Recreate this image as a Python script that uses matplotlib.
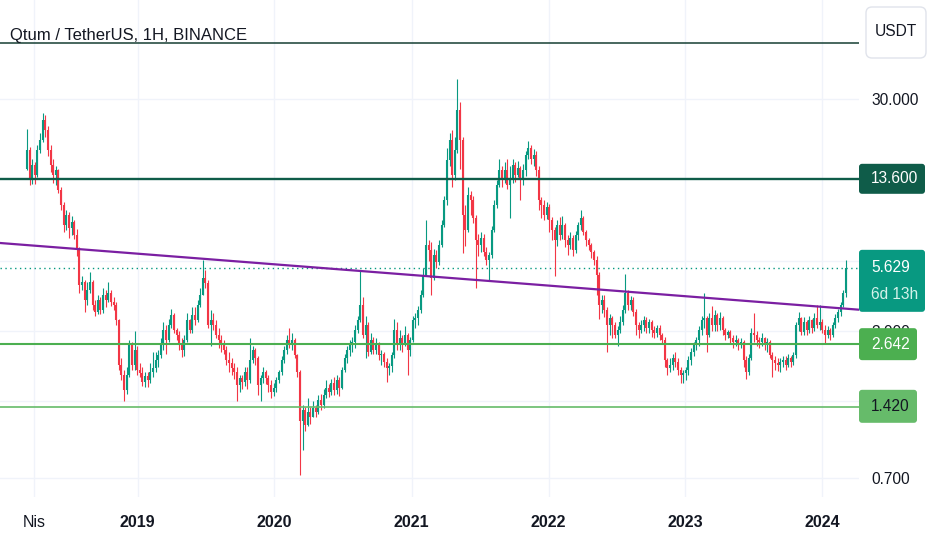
import numpy as np
import pandas as pd
import matplotlib
matplotlib.use("Agg")
import matplotlib.pyplot as plt
import matplotlib.dates as mdates
from matplotlib.patches import FancyBboxPatch
from matplotlib.transforms import IdentityTransform
from matplotlib.ticker import FixedLocator, NullLocator, FuncFormatter

# === weekly QTUM/USDT candles ===
start_week = "2018-03-12"
first_open = 15.0
closes = [
    18.1, 13.4, 15.6, 14.1, 18.1, 20.0, 24.4, 22.1, 18.1, 15.6,
    14.1, 14.8, 12.2, 10.5, 8.6, 9.5, 8.35, 8.85, 7.79, 6.72,
    4.75, 4.89, 4.09, 4.52, 4.89, 3.89, 3.64, 4.09, 3.71, 4.30,
    4.09, 4.38, 4.00, 3.89, 3.36, 2.15, 1.95, 1.68, 1.95, 2.62,
    2.15, 2.49, 2.04, 1.99, 1.81, 1.93, 1.85, 2.00, 2.08, 2.26,
    2.37, 2.62, 3.04, 2.75, 3.19, 3.53, 3.04, 2.89, 2.62, 2.49,
    2.75, 3.36, 3.04, 3.53, 3.36, 3.89, 4.30, 5.10, 4.85, 3.19,
    3.36, 3.19, 2.89, 2.75, 2.62, 2.49, 2.26, 2.19, 2.08, 2.00,
    1.76, 1.89, 1.81, 2.00, 1.85, 2.26, 2.49, 2.30, 1.76, 1.89,
    2.00, 1.89, 1.76, 1.64, 1.71, 1.85, 2.00, 2.26, 2.49, 2.75,
    2.62, 2.75, 2.37, 2.00, 1.23, 1.37, 1.19, 1.35, 1.28, 1.40,
    1.35, 1.52, 1.45, 1.60, 1.71, 1.64, 1.80, 1.68, 1.85, 1.71,
    2.04, 2.30, 2.49, 2.62, 2.70, 3.04, 3.36, 3.89, 2.89, 3.19,
    2.45, 2.75, 2.49, 2.62, 2.37, 2.40, 2.22, 2.08, 2.12, 2.37,
    3.04, 2.62, 2.80, 2.62, 2.89, 2.49, 2.75, 3.36, 3.43, 3.71,
    4.30, 5.24, 7.06, 6.72, 5.10, 6.39, 5.96, 7.06, 8.60, 11.0,
    16.4, 20.0, 14.1, 18.1, 26.9, 20.0, 9.5, 8.19, 11.6, 11.0,
    9.2, 7.42, 7.06, 7.57, 6.58, 6.08, 6.39, 8.19, 10.5, 12.8,
    14.8, 13.4, 14.8, 12.8, 13.7, 15.6, 14.1, 15.1, 13.4, 14.8,
    17.2, 18.4, 16.6, 17.2, 14.8, 11.0, 10.5, 9.5, 10.3, 9.04,
    8.19, 7.42, 8.6, 7.79, 8.6, 7.42, 7.06, 7.57, 6.72, 7.79,
    8.6, 9.2, 8.0, 7.42, 7.06, 6.58, 6.08, 5.24, 3.89, 4.09,
    3.71, 3.19, 3.43, 3.19, 2.89, 3.04, 3.29, 3.71, 4.38, 3.89,
    4.09, 3.64, 3.19, 3.04, 3.19, 3.36, 3.10, 3.29, 3.04, 2.95,
    3.10, 2.89, 2.75, 2.26, 2.08, 2.15, 2.30, 2.22, 2.04, 1.95,
    1.99, 2.04, 2.26, 2.45, 2.62, 2.75, 3.04, 3.36, 3.43, 2.89,
    3.43, 3.19, 3.53, 3.19, 3.43, 3.04, 2.89, 2.98, 2.80, 2.69,
    2.75, 2.62, 2.69, 2.26, 2.00, 2.30, 2.95, 2.89, 2.75, 2.69,
    2.80, 2.62, 2.69, 2.37, 2.26, 2.19, 2.15, 2.22, 2.26, 2.15,
    2.30, 2.22, 2.37, 3.19, 3.43, 2.98, 3.29, 3.04, 3.36, 3.10,
    3.43, 3.19, 3.29, 3.04, 2.89, 3.04, 2.89, 3.19, 3.43, 3.64,
    3.89, 4.38, 5.629,
]
highs = [
    22.3, 18.6, 16.5, 16.0, 19.0, 21.5, 26.0, 25.5, 23.0, 19.0,
    16.5, 15.5, 15.0, 12.5, 10.8, 10.0, 9.8, 9.4, 9.0, 8.3,
    6.9, 5.2, 5.0, 4.9, 5.4, 5.0, 4.1, 4.3, 4.2, 4.6,
    4.5, 4.9, 4.5, 4.2, 4.0, 3.4, 2.3, 2.05, 2.1, 2.75,
    2.7, 3.0, 2.6, 2.2, 2.1, 2.0, 2.0, 2.2, 2.45, 2.45,
    2.5, 2.8, 3.3, 3.2, 3.4, 3.75, 3.6, 3.1, 3.0, 2.8,
    2.9, 3.6, 3.4, 3.8, 3.8, 4.1, 4.6, 6.1, 5.5, 5.0,
    3.7, 3.6, 3.35, 3.1, 2.9, 2.75, 2.6, 2.45, 2.3, 2.2,
    2.1, 1.95, 1.95, 2.1, 2.1, 2.8, 2.6, 2.55, 2.35, 1.95,
    2.1, 2.05, 1.95, 1.85, 1.8, 1.9, 2.05, 2.35, 2.6, 2.9,
    3.1, 2.95, 2.8, 2.4, 2.05, 1.45, 1.42, 1.55, 1.42, 1.5,
    1.45, 1.6, 1.62, 1.7, 1.85, 1.78, 1.88, 1.9, 1.95, 1.9,
    2.1, 2.4, 2.6, 2.75, 2.85, 3.2, 3.5, 5.5, 4.2, 3.5,
    3.3, 2.95, 2.85, 2.8, 2.7, 2.5, 2.45, 2.3, 2.2, 2.45,
    3.4, 3.3, 3.05, 2.9, 3.15, 2.95, 2.85, 3.5, 3.6, 3.85,
    4.5, 5.6, 9.0, 7.4, 7.3, 6.8, 6.7, 7.4, 9.0, 11.5,
    18.5, 21.5, 22.0, 20.5, 36.5, 29.0, 20.5, 10.5, 12.5, 12.0,
    11.5, 9.5, 7.9, 8.0, 7.9, 6.9, 6.6, 8.5, 11.0, 13.5,
    16.5, 15.5, 16.0, 16.6, 15.5, 16.5, 16.0, 16.3, 15.5, 15.8,
    18.0, 19.8, 19.0, 18.3, 18.0, 15.5, 11.4, 11.0, 10.8, 10.6,
    9.3, 8.4, 9.0, 9.3, 9.4, 8.8, 7.8, 8.0, 7.8, 8.1,
    8.9, 10.0, 9.4, 8.2, 7.6, 7.2, 6.7, 6.3, 5.4, 4.3,
    4.3, 3.8, 3.55, 3.5, 3.3, 3.15, 3.5, 3.9, 5.3, 4.5,
    4.25, 4.2, 3.75, 3.3, 3.35, 3.5, 3.45, 3.4, 3.35, 3.15,
    3.2, 3.2, 2.95, 2.85, 2.3, 2.3, 2.4, 2.45, 2.3, 2.1,
    2.05, 2.1, 2.35, 2.55, 2.7, 2.85, 3.15, 3.5, 4.4, 3.5,
    3.6, 3.85, 3.7, 3.6, 3.65, 3.5, 3.1, 3.05, 3.05, 2.9,
    2.9, 2.8, 2.8, 2.75, 2.35, 2.4, 3.1, 3.6, 3.0, 2.85,
    2.95, 2.85, 2.8, 2.75, 2.45, 2.35, 2.3, 2.3, 2.35, 2.35,
    2.4, 2.35, 2.45, 3.3, 3.65, 3.45, 3.45, 3.35, 3.5, 3.4,
    3.6, 3.9, 3.9, 3.4, 3.2, 3.15, 3.1, 3.3, 3.55, 3.75,
    4.0, 4.5, 6.1,
]
lows = [
    14.8, 12.8, 12.9, 12.9, 13.8, 17.5, 19.5, 20.5, 17.0, 14.5,
    13.0, 12.8, 11.8, 10.0, 8.0, 8.2, 7.6, 7.8, 7.5, 6.3,
    4.4, 4.5, 3.65, 3.9, 4.4, 3.7, 3.5, 3.55, 3.55, 3.6,
    3.8, 4.0, 3.85, 3.7, 3.2, 2.05, 1.85, 1.50, 1.62, 1.9,
    2.05, 2.05, 1.95, 1.9, 1.75, 1.72, 1.73, 1.8, 1.9, 2.0,
    2.1, 2.3, 2.5, 2.4, 2.7, 3.1, 2.95, 2.75, 2.5, 2.33,
    2.35, 2.7, 2.95, 2.95, 3.2, 3.3, 3.8, 4.3, 4.6, 3.1,
    2.6, 3.05, 2.8, 2.55, 2.45, 2.4, 2.15, 2.0, 1.95, 1.88,
    1.50, 1.65, 1.7, 1.75, 1.7, 1.8, 2.2, 2.15, 1.6, 1.5,
    1.8, 1.78, 1.65, 1.55, 1.58, 1.65, 1.8, 1.95, 2.2, 2.4,
    2.55, 2.5, 2.3, 1.9, 0.72, 0.93, 1.12, 1.18, 1.2, 1.3,
    1.28, 1.32, 1.38, 1.4, 1.55, 1.56, 1.6, 1.6, 1.62, 1.58,
    1.7, 2.0, 2.2, 2.35, 2.45, 2.55, 2.95, 3.3, 2.8, 2.3,
    2.35, 2.4, 2.4, 2.4, 2.25, 2.15, 2.1, 1.82, 1.95, 2.0,
    2.3, 2.5, 2.5, 2.45, 2.6, 1.95, 2.35, 2.7, 3.1, 3.2,
    3.6, 4.2, 5.2, 6.0, 4.3, 5.0, 5.6, 5.8, 6.9, 8.4,
    10.5, 15.5, 12.5, 13.5, 17.5, 15.0, 6.5, 7.0, 8.0, 9.5,
    8.8, 4.6, 6.3, 6.6, 6.3, 5.8, 5.0, 6.2, 8.0, 10.2,
    12.5, 12.6, 13.0, 12.3, 9.2, 13.0, 13.2, 13.8, 11.0, 12.8,
    14.0, 16.5, 15.7, 15.5, 14.0, 10.0, 9.2, 9.0, 9.1, 8.0,
    7.4, 5.2, 7.0, 7.4, 7.5, 6.9, 6.4, 6.8, 6.3, 6.5,
    7.4, 8.2, 7.8, 7.0, 6.7, 6.2, 5.8, 4.3, 3.4, 3.6,
    3.45, 2.45, 2.9, 2.8, 2.8, 2.6, 2.95, 3.2, 3.6, 3.7,
    3.7, 3.5, 2.9, 2.8, 2.95, 3.0, 2.95, 2.95, 2.85, 2.8,
    2.85, 2.75, 2.65, 2.1, 1.95, 2.0, 2.05, 2.1, 1.95, 1.8,
    1.8, 1.85, 1.95, 2.15, 2.35, 2.5, 2.6, 2.9, 3.1, 2.45,
    2.85, 3.0, 3.0, 3.0, 3.05, 2.9, 2.75, 2.8, 2.65, 2.55,
    2.6, 2.5, 2.55, 2.1, 1.87, 1.95, 2.25, 2.7, 2.6, 2.55,
    2.6, 2.5, 2.45, 2.3, 1.9, 2.05, 2.02, 2.0, 2.1, 2.05,
    2.1, 2.1, 2.15, 2.3, 3.0, 2.9, 2.9, 2.9, 2.95, 2.95,
    3.0, 3.1, 3.05, 2.95, 2.65, 2.8, 2.75, 2.85, 3.1, 3.3,
    3.5, 3.8, 4.2,
]

# === drawn levels and trendline ===
level_top = 52.3
level_res = 13.6
level_sup1 = 2.642
level_sup2 = 1.42
last_price = 5.629
countdown = "6d 13h"
trend_dates = ["2017-12-30", "2024-04-15"]
trend_prices = [7.2, 3.71]

grid_prices = [30, 6, 3, 1.5, 0.7]
shown_prices = [30, 3, 0.7]          # 6.000 and 1.500 sit under the level boxes
time_ticks = ["2018-04-01", "2019-01-01", "2020-01-01", "2021-01-01",
              "2022-01-01", "2023-01-01", "2024-01-01"]
time_labels = ["Nis", "2019", "2020", "2021", "2022", "2023", "2024"]
title = "Qtum / TetherUS, 1H, BINANCE"

UP, DOWN = "#089981", "#F23645"
TXT = "#131722"
plt.rcParams["font.family"] = ["Liberation Sans", "DejaVu Sans"]
LBL = 11.2

W, H = 932, 550
pane_right, pane_bottom = 859, 497

fig = plt.figure(figsize=(W / 100, H / 100), dpi=100)
fig.patch.set_facecolor("white")
ax = fig.add_axes([0, (H - pane_bottom) / H, pane_right / W, pane_bottom / H])
ax.set_yscale("log")
ax.set_ylim(0.581, 80.0)
d0 = pd.Timestamp(start_week)
ax.set_xlim(mdates.date2num(d0 - pd.Timedelta(days=72)),
            mdates.date2num(d0 + pd.Timedelta(days=2219)))

# === candles ===
dates = pd.date_range(start_week, periods=len(closes), freq="7D")
x = mdates.date2num(dates.to_numpy())
c = np.array(closes)
o = np.r_[first_open, c[:-1]]
h = np.maximum(np.array(highs), np.maximum(o, c))
l = np.minimum(np.array(lows), np.minimum(o, c))
cols = np.where(c >= o, UP, DOWN)
ax.vlines(x, l, h, colors=cols, lw=0.8, zorder=3)
ax.vlines(x, np.minimum(o, c), np.maximum(o, c), colors=cols, lw=1.5, zorder=3)

# === lines ===
ax.axhline(level_top, color="#163f33", lw=1.1, zorder=4)
ax.axhline(level_res, color="#0f5c49", lw=1.7, zorder=4)
ax.axhline(level_sup1, color="#4caf50", lw=1.5, zorder=4)
ax.axhline(level_sup2, color="#66bb6a", lw=1.2, zorder=4)
ax.axhline(last_price, color=UP, lw=1.0, ls=(0, (1, 2.5)), zorder=2)
ax.plot(mdates.date2num(pd.to_datetime(trend_dates).to_numpy()), trend_prices,
        color="#7b1fa2", lw=1.6, zorder=4)

# === grid and axes ===
for s in ax.spines.values():
    s.set_visible(False)
ax.yaxis.set_major_locator(FixedLocator(grid_prices))
ax.yaxis.set_minor_locator(NullLocator())
ax.yaxis.set_major_formatter(
    FuncFormatter(lambda v, _: f"{v:.3f}" if any(np.isclose(v, shown_prices)) else ""))
ax.yaxis.tick_right()
ax.tick_params(axis="y", length=0, pad=9, labelsize=LBL, labelcolor=TXT)
ax.set_xticks(mdates.date2num(pd.to_datetime(time_ticks).to_numpy()))
ax.set_xticklabels(time_labels)
ax.tick_params(axis="x", length=0, pad=13, labelsize=11.5, labelcolor=TXT)
for lab in ax.get_xticklabels()[1:]:
    lab.set_fontweight("bold")
ax.grid(True, color="#f0f3fa", lw=1, zorder=0)
ax.set_axisbelow(True)

ident = IdentityTransform()


def price_px(p):
    return ax.transData.transform((x[0], p))[1]


def price_box(price, text, fc, tc, x1, up=16, down=16):
    yc = price_px(price)
    box = FancyBboxPatch((pane_right, yc - down), x1 - pane_right, up + down,
                         boxstyle="round,pad=0,rounding_size=3", fc=fc, ec="none",
                         transform=ident, zorder=5)
    fig.add_artist(box)
    fig.text(871, yc, text, transform=ident, ha="left", va="center",
             fontsize=LBL, color=tc, zorder=6)
    return yc


price_box(level_res, f"{level_res:.3f}", "#0f5c49", "white", 925, up=15, down=15)
yl = price_box(last_price, f"{last_price:.3f}", UP, "white", 925, up=18, down=44)
fig.text(871, yl - 27, countdown, transform=ident, ha="left", va="center",
         fontsize=LBL, color="#d4f2ea", zorder=6)
price_box(level_sup1, f"{level_sup1:.3f}", "#4caf50", "white", 917)
price_box(level_sup2, f"{level_sup2:.3f}", "#66bb6a", TXT, 917, up=17, down=16)

# currency box and title
fig.add_artist(FancyBboxPatch((866, H - 58), 60, 51,
                              boxstyle="round,pad=0,rounding_size=6",
                              fc="white", ec="#e0e3eb", lw=1, transform=ident, zorder=5))
fig.text(896, H - 32, "USDT", transform=ident, ha="center", va="center",
         fontsize=LBL, color=TXT, zorder=6)
fig.text(10, H - 40, title, transform=ident, ha="left", va="baseline",
         fontsize=12, color=TXT, zorder=6)

fig.savefig("out.png", dpi=100, facecolor="white")
